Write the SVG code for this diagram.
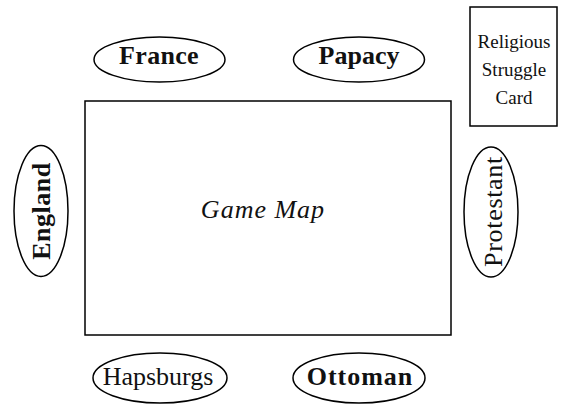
<svg xmlns="http://www.w3.org/2000/svg" width="561" height="405" viewBox="0 0 561 405">
<style>
.sh{fill:#fff;stroke:#000;stroke-width:1.5}
.lb{font-family:"Liberation Serif","Times New Roman",Tinos,serif;font-size:26px;text-anchor:middle;fill:#111}
.b{font-weight:bold}
.card{font-family:"Liberation Serif","Times New Roman",Tinos,serif;font-size:19px;text-anchor:middle;fill:#111}
</style>
<rect width="561" height="405" fill="#fff"/>
<g id="connectors"></g>
<g id="map">
<rect class="sh" x="85" y="101" width="366" height="234"/>
<text class="lb" x="263" y="218" font-style="italic" font-size="25" letter-spacing="1">Game Map</text>
</g>
<g id="card">
<rect class="sh" x="470" y="7" width="87" height="119"/>
<text class="card" x="514" y="48">Religious</text>
<text class="card" x="514" y="76">Struggle</text>
<text class="card" x="514" y="104">Card</text>
</g>
<g id="france">
<ellipse class="sh" cx="159.5" cy="59.5" rx="65.5" ry="22.5"/>
<text class="lb b" x="159" y="64" letter-spacing="0.3">France</text>
</g>
<g id="papacy">
<ellipse class="sh" cx="359" cy="59.5" rx="65.5" ry="22.5"/>
<text class="lb b" x="359" y="64">Papacy</text>
</g>
<g id="england">
<ellipse class="sh" cx="41" cy="211" rx="27" ry="65.5"/>
<text class="lb b" transform="translate(50,211) rotate(-90)" x="0" y="0" letter-spacing="0.5">England</text>
</g>
<g id="protestant">
<ellipse class="sh" cx="491" cy="212" rx="27" ry="65"/>
<text class="lb" transform="translate(502,211.5) rotate(-90)" x="0" y="0" letter-spacing="0.7">Protestant</text>
</g>
<g id="hapsburgs">
<ellipse class="sh" cx="160" cy="378" rx="67" ry="25"/>
<text class="lb" x="158" y="385">Hapsburgs</text>
</g>
<g id="ottoman">
<ellipse class="sh" cx="359" cy="378" rx="66" ry="25"/>
<text class="lb b" x="360" y="385" letter-spacing="1">Ottoman</text>
</g>
</svg>
